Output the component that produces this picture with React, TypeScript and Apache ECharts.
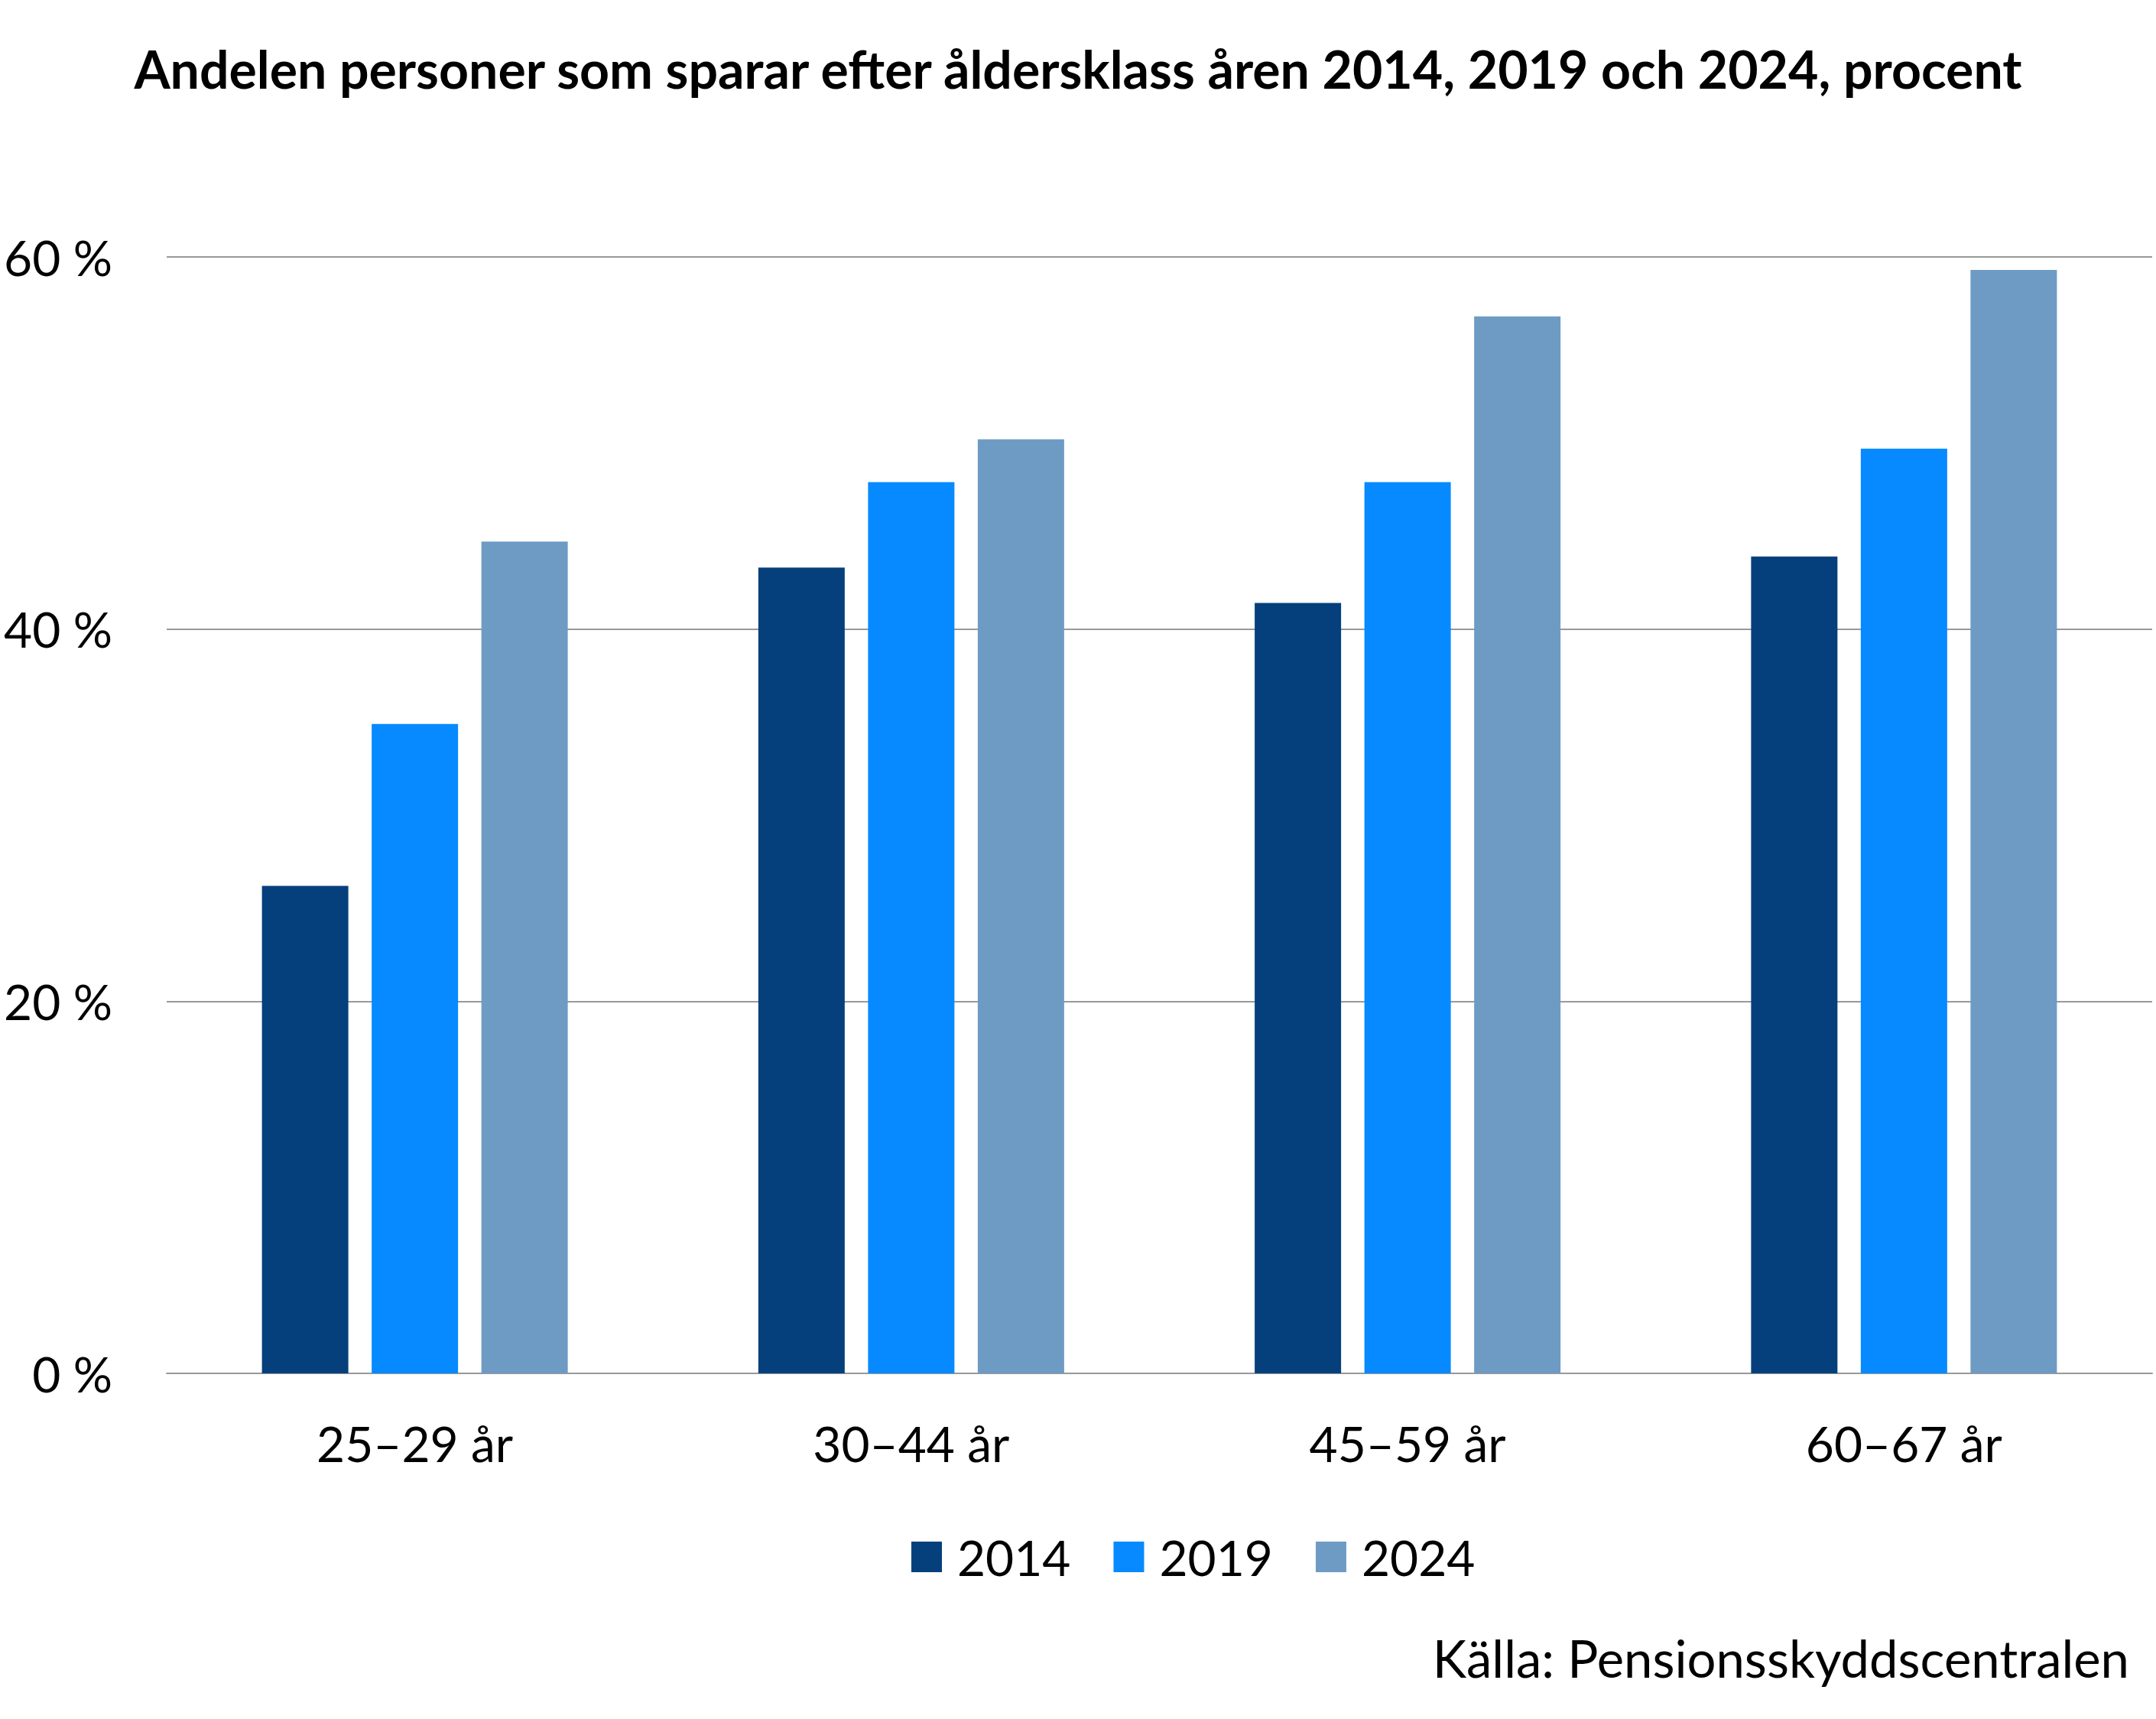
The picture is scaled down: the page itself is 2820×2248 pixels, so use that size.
import React, { useEffect, useRef } from "react";
import * as echarts from "echarts";

const categories = ["25–29 år", "30–44 år", "45–59 år", "60–67 år"];
const seriesNames = ["2014", "2019", "2024"];
const values2014 = [26.2, 43.3, 41.4, 43.9];
const values2019 = [34.9, 47.9, 47.9, 49.7];
const values2024 = [44.7, 50.2, 56.8, 59.3];
const colors = ["#05407C", "#078AFF", "#6E9BC4"];
const titleText = "Andelen personer som sparar efter åldersklass åren 2014, 2019 och 2024, procent";
const sourceText = "Källa: Pensionsskyddscentralen";

const FONT = "Lato, 'Open Sans', sans-serif";

export default function App() {
  const ref = useRef<HTMLDivElement>(null);
  useEffect(() => {
    if (!ref.current) return;
    const chart = echarts.init(ref.current, undefined, { renderer: "svg" });
    const allValues = [values2014, values2019, values2024];
    chart.setOption({
      animation: false,
      backgroundColor: "#ffffff",
      title: {
        text: titleText,
        left: "center",
        top: 55,
        padding: 0,
        textStyle: {
          fontFamily: FONT,
          fontSize: 68,
          fontWeight: "bold",
          color: "#000000",
          lineHeight: 68,
        },
      },
      legend: {
        data: seriesNames,
        left: 1192,
        top: 2004,
        padding: 0,
        itemWidth: 40,
        itemHeight: 40,
        itemGap: 56,
        icon: "rect",
        textStyle: {
          fontFamily: FONT,
          fontSize: 64,
          color: "#000000",
          lineHeight: 40,
          padding: [0, 0, 0, 15],
        },
      },
      grid: {
        left: 218,
        right: 5,
        top: 336,
        bottom: 452,
        containLabel: false,
      },
      xAxis: {
        type: "category",
        data: categories,
        axisLine: { show: true, lineStyle: { color: "#999999", width: 2 } },
        axisTick: { show: false },
        axisLabel: {
          fontFamily: FONT,
          fontSize: 64,
          color: "#000000",
          margin: 59,
          lineHeight: 64,
        },
      },
      yAxis: {
        type: "value",
        min: 0,
        max: 60,
        interval: 20,
        axisLine: { show: false },
        axisTick: { show: false },
        splitLine: { lineStyle: { color: "#999999", width: 2 } },
        axisLabel: {
          fontFamily: FONT,
          fontSize: 64,
          color: "#000000",
          margin: 71,
          formatter: "{value} %",
        },
      },
      series: seriesNames.map((name, i) => ({
        name,
        type: "bar",
        data: allValues[i],
        barWidth: 113,
        barGap: "27%",
        itemStyle: { color: colors[i] },
      })),
      graphic: [
        {
          type: "text",
          right: 35,
          top: 2134,
          style: {
            text: sourceText,
            fontFamily: FONT,
            fontSize: 67,
            fill: "#000000",
          },
        },
      ],
    });
    return () => chart.dispose();
  }, []);
  return (
    <div
      ref={ref}
      style={{ position: "absolute", left: 0, top: 0, width: 2820, height: 2248 }}
    />
  );
}
